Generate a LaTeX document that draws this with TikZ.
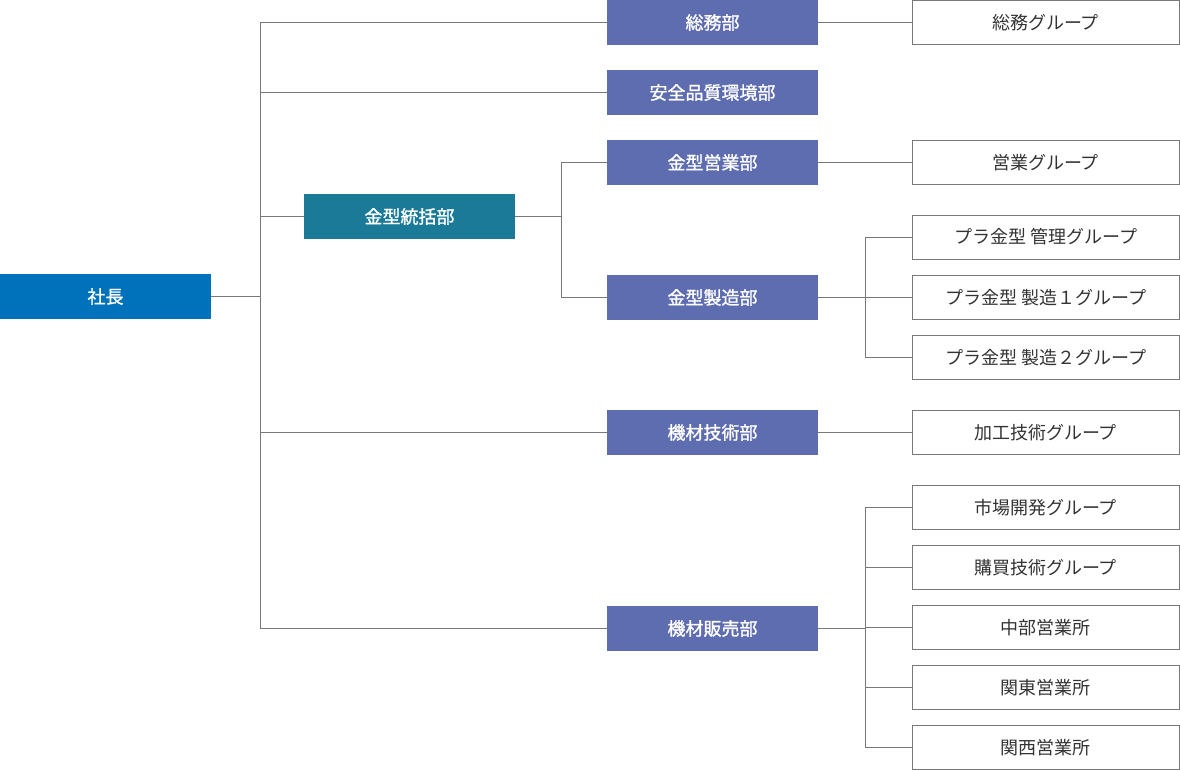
\documentclass[tikz,border=0pt]{standalone}
\usepackage{fontspec}
\setmainfont{Noto Sans CJK JP}
\newfontfamily\bx[FakeBold=1.2]{Noto Sans CJK JP}
\definecolor{ceo}{RGB}{0,114,188}
\definecolor{hq}{RGB}{26,122,152}
\definecolor{dept}{RGB}{94,108,176}
\definecolor{ln}{RGB}{120,120,120}
\begin{document}
\begin{tikzpicture}[x=1pt,y=-1pt,
 box/.style={draw=none,minimum height=45pt,inner sep=0pt,text=white,font=\bx\fontsize{18}{20}\selectfont},
 dbox/.style={box,fill=dept,minimum width=211pt},
 gbox/.style={draw=ln,line width=0.6pt,fill=white,minimum width=267pt,minimum height=44pt,inner sep=0pt,font=\fontsize{18}{20}\selectfont,text=black!80},
 conn/.style={draw=ln,line width=0.6pt}]
\useasboundingbox (0,0) rectangle (1180,770);
\node[box,fill=ceo,minimum width=211pt] (ceo) at (105.5,296.5) {社長};
\node[box,fill=hq,minimum width=211pt] (hq) at (409.5,216.5) {金型統括部};
\node[dbox] (d1) at (712.5,22.5) {総務部};
\node[dbox] (d2) at (712.5,92.5) {安全品質環境部};
\node[dbox] (d3) at (712.5,162.5) {金型営業部};
\node[dbox] (d4) at (712.5,297.5) {金型製造部};
\node[dbox] (d5) at (712.5,432.5) {機材技術部};
\node[dbox] (d6) at (712.5,628.5) {機材販売部};
\node[gbox] (g1) at (1045.5,22.5) {総務グループ};
\node[gbox] (g2) at (1045.5,162.5) {営業グループ};
\node[gbox] (g3) at (1045.5,237) {プラ金型 管理グループ};
\node[gbox] (g4) at (1045.5,297.5) {プラ金型 製造１グループ};
\node[gbox] (g5) at (1045.5,357.5) {プラ金型 製造２グループ};
\node[gbox] (g6) at (1045.5,432.5) {加工技術グループ};
\node[gbox] (g7) at (1045.5,507.5) {市場開発グループ};
\node[gbox] (g8) at (1045.5,567.5) {購買技術グループ};
\node[gbox] (g9) at (1045.5,627.5) {中部営業所};
\node[gbox] (g10) at (1045.5,687.5) {関東営業所};
\node[gbox] (g11) at (1045.5,747.5) {関西営業所};
\coordinate (t) at (260,0);
\path[conn] (ceo.east) -- (t|-ceo.east);
\path[conn] (t|-d1) -- (t|-d6);
\foreach \n in {d1,d2,hq,d5,d6} \path[conn] (t|-\n) -- (\n.west);
\coordinate (h) at (561,0);
\path[conn] (hq.east) -- (h|-hq);
\path[conn] (h|-d3) -- (h|-d4);
\foreach \n in {d3,d4} \path[conn] (h|-\n) -- (\n.west);
\path[conn] (d1.east) -- (g1.west);
\path[conn] (d3.east) -- (g2.west);
\path[conn] (d5.east) -- (g6.west);
\coordinate (m) at (865,0);
\path[conn] (d4.east) -- (m|-d4);
\path[conn] (m|-g3) -- (m|-g5);
\foreach \n in {g3,g4,g5} \path[conn] (m|-\n) -- (\n.west);
\path[conn] (d6.east) -- (m|-d6);
\path[conn] (m|-g7) -- (m|-g11);
\foreach \n in {g7,g8,g9,g10,g11} \path[conn] (m|-\n) -- (\n.west);
\end{tikzpicture}
\end{document}
